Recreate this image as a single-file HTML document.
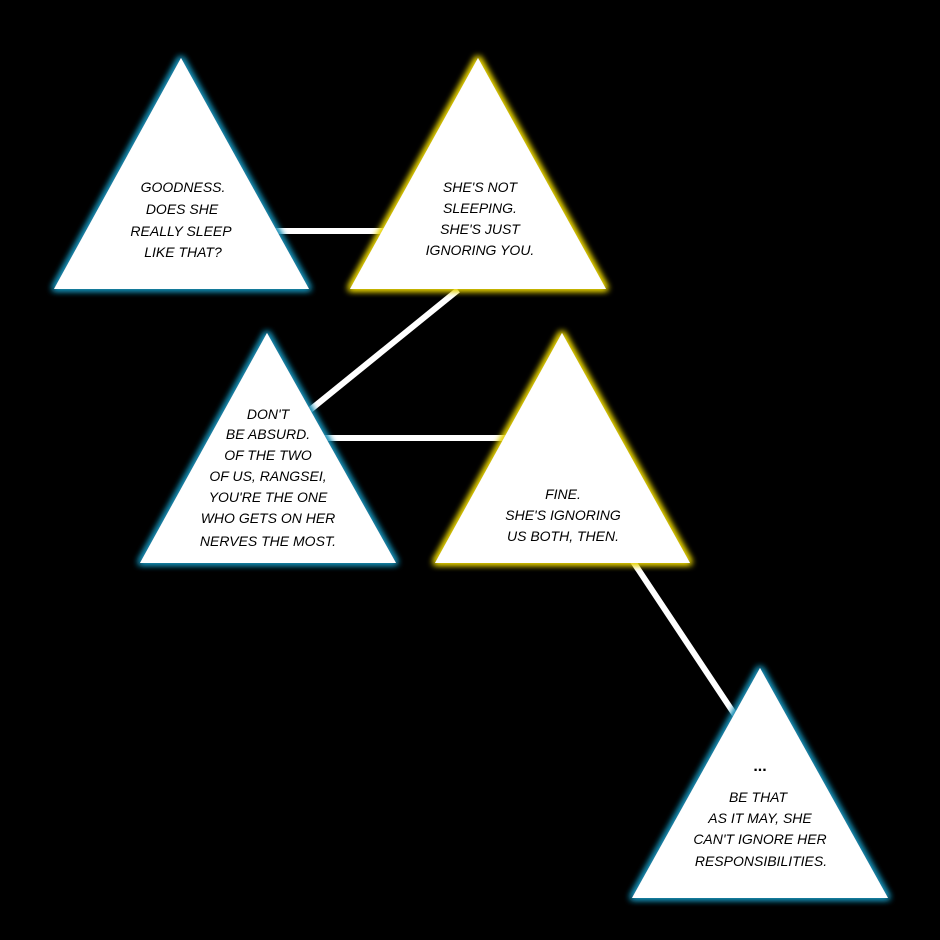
<!DOCTYPE html>
<html><head><style>
html,body{margin:0;padding:0;background:#000;}
svg{display:block;}
text{font-family:"Liberation Sans",sans-serif;font-style:italic;font-size:14px;fill:#000;text-anchor:middle;}
</style></head><body>
<svg width="940" height="940" viewBox="0 0 940 940" xmlns="http://www.w3.org/2000/svg">
<defs>
<filter id="gb" x="-20%" y="-20%" width="140%" height="140%">
<feMorphology in="SourceAlpha" operator="dilate" radius="1.5" result="d"/>
<feGaussianBlur in="d" stdDeviation="3.5" result="b"/>
<feFlood flood-color="#1b8fb5"/>
<feComposite in2="b" operator="in" result="g"/>
<feMerge><feMergeNode in="g"/><feMergeNode in="g"/><feMergeNode in="SourceGraphic"/></feMerge>
</filter>
<filter id="gy" x="-20%" y="-20%" width="140%" height="140%">
<feMorphology in="SourceAlpha" operator="dilate" radius="1.5" result="d"/>
<feGaussianBlur in="d" stdDeviation="3.5" result="b"/>
<feFlood flood-color="#e6d200"/>
<feComposite in2="b" operator="in" result="g"/>
<feMerge><feMergeNode in="g"/><feMergeNode in="g"/><feMergeNode in="SourceGraphic"/></feMerge>
</filter>
</defs>
<g stroke="#fff" stroke-width="6">
<line x1="270" y1="231" x2="390" y2="231"/>
<line x1="458" y1="290" x2="310" y2="410"/>
<line x1="320" y1="438" x2="510" y2="438"/>
<line x1="632" y1="560" x2="735" y2="715"/>
</g>
<polygon points="181,58 54,289 309,289" fill="#fff" filter="url(#gb)"/>
<polygon points="478,58 350,289 606,289" fill="#fff" filter="url(#gy)"/>
<polygon points="267,333 140,563 396,563" fill="#fff" filter="url(#gb)"/>
<polygon points="562,333 435,563 690,563" fill="#fff" filter="url(#gy)"/>
<polygon points="760,668 632,898 888,898" fill="#fff" filter="url(#gb)"/>
<text x="183" y="192">GOODNESS.</text>
<text x="182" y="214">DOES SHE</text>
<text x="181" y="236">REALLY SLEEP</text>
<text x="183" y="257">LIKE THAT?</text>
<text x="480" y="192">SHE'S NOT</text>
<text x="480" y="213">SLEEPING.</text>
<text x="480" y="234">SHE'S JUST</text>
<text x="480" y="255">IGNORING YOU.</text>
<text x="268" y="419">DON'T</text>
<text x="268" y="439">BE ABSURD.</text>
<text x="268" y="460">OF THE TWO</text>
<text x="268" y="481">OF US, RANGSEI,</text>
<text x="268" y="502">YOU'RE THE ONE</text>
<text x="268" y="523">WHO GETS ON HER</text>
<text x="268" y="546">NERVES THE MOST.</text>
<text x="563" y="499">FINE.</text>
<text x="563" y="520">SHE'S IGNORING</text>
<text x="563" y="541">US BOTH, THEN.</text>
<text x="760" y="771" style="font-weight:bold;font-style:normal;font-size:16px">...</text>
<text x="758" y="802">BE THAT</text>
<text x="760" y="823">AS IT MAY, SHE</text>
<text x="760" y="844">CAN'T IGNORE HER</text>
<text x="761" y="866">RESPONSIBILITIES.</text>
</svg>
</body></html>
